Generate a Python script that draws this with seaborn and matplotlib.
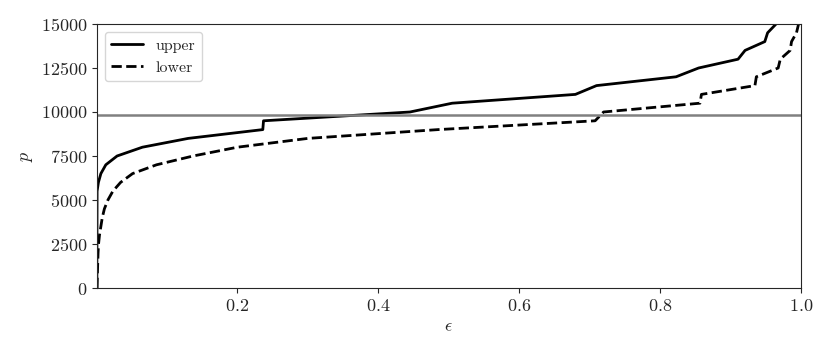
import matplotlib
matplotlib.use("Agg")
import matplotlib.pyplot as plt
import pandas as pd
import seaborn as sns

upper_eps = [0.0003, 0.0004, 0.0006, 0.0025, 0.006, 0.013, 0.029, 0.065,
             0.13, 0.236, 0.237, 0.445, 0.505, 0.68, 0.71, 0.823, 0.855,
             0.911, 0.921, 0.949, 0.953, 0.965]
upper_p = [0, 2500, 5500, 6000, 6500, 7000, 7500, 8000,
           8500, 9000, 9500, 10000, 10500, 11000, 11500, 12000, 12500,
           13000, 13500, 14000, 14500, 15000]

lower_eps = [0.0005, 0.0012, 0.002, 0.0027, 0.004, 0.006, 0.008, 0.011,
             0.016, 0.023, 0.034, 0.051, 0.085, 0.137, 0.2, 0.3, 0.485,
             0.708, 0.72, 0.857, 0.859, 0.935, 0.937, 0.968, 0.971, 0.985,
             0.987, 0.994, 0.997]
lower_p = [0, 1000, 2000, 2500, 3000, 3500, 4000, 4500,
           5000, 5500, 6000, 6500, 7000, 7500, 8000, 8500, 9000,
           9500, 10000, 10500, 11000, 11500, 12000, 12500, 13000, 13500,
           14000, 14500, 15000]

threshold = 9850

sns.set_style("ticks")
plt.rcParams["font.family"] = "serif"
plt.rcParams["font.serif"] = ["cmr10", "DejaVu Serif"]
plt.rcParams["mathtext.fontset"] = "cm"
plt.rcParams["axes.formatter.use_mathtext"] = True
plt.rcParams["xtick.labelsize"] = 13
plt.rcParams["ytick.labelsize"] = 13
plt.rcParams["axes.labelsize"] = 13
plt.rcParams["legend.fontsize"] = 11.5

fig = plt.figure(figsize=(8.3, 3.56), dpi=100)
ax = fig.add_axes([0.1167, 0.191, 0.848, 0.7416])

upper = pd.DataFrame({"eps": upper_eps, "p": upper_p})
lower = pd.DataFrame({"eps": lower_eps, "p": lower_p})

sns.lineplot(data=upper, x="eps", y="p", ax=ax, color="black", lw=2,
             label="upper", sort=False, estimator=None)
sns.lineplot(data=lower, x="eps", y="p", ax=ax, color="black", lw=2,
             ls="--", label="lower", sort=False, estimator=None)
ax.axhline(threshold, color="grey", lw=1.8)

ax.set_xlim(0.0003, 1.0)
ax.set_ylim(0, 15000)
ax.set_xticks([0.2, 0.4, 0.6, 0.8, 1.0])
ax.set_yticks([0, 2500, 5000, 7500, 10000, 12500, 15000])
ax.set_xlabel(r"$\epsilon$")
ax.set_ylabel(r"$p$")
ax.legend(loc="upper left")

fig.savefig("out.png", dpi=100)
